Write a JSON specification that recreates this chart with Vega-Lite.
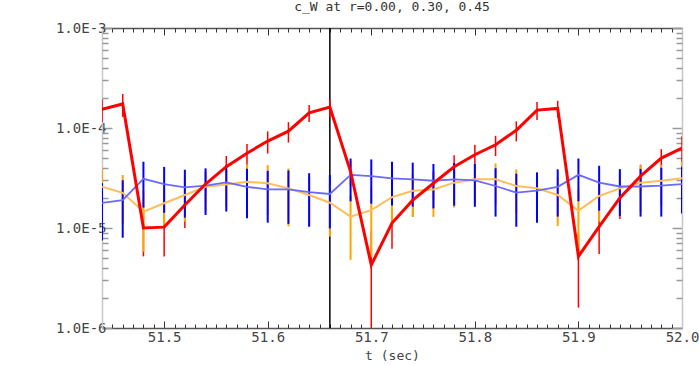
{
  "$schema": "https://vega.github.io/schema/vega-lite/v6.json",
  "width": 580,
  "height": 300,
  "autosize": {"type": "none"},
  "padding": {"left": 102, "top": 28, "right": 17, "bottom": 37},
  "background": "white",
  "title": {"text": "c_W at r=0.00, 0.30, 0.45", "font": "DejaVu Sans Mono", "fontSize": 13, "fontWeight": "normal", "color": "#333", "offset": 7},
  "config": {"view": {"stroke": null}},
  "datasets": {
    "marker": [{"t": 51.66}],
    "red": [
      {"t": 51.44, "v": 1.54e-4, "lo": 1.14e-4, "hi": 1.94e-4},
      {"t": 51.46, "v": 1.74e-4, "lo": 1.29e-4, "hi": 2.19e-4},
      {"t": 51.48, "v": 1.0e-5, "lo": 5.2e-6, "hi": 1.48e-5},
      {"t": 51.50, "v": 1.02e-5, "lo": 5.2e-6, "hi": 1.52e-5},
      {"t": 51.52, "v": 1.7e-5, "lo": 1.0e-5, "hi": 2.4e-5},
      {"t": 51.54, "v": 2.75e-5, "lo": 1.85e-5, "hi": 3.65e-5},
      {"t": 51.56, "v": 4.1e-5, "lo": 2.95e-5, "hi": 5.25e-5},
      {"t": 51.58, "v": 5.6e-5, "lo": 4.3e-5, "hi": 6.9e-5},
      {"t": 51.60, "v": 7.4e-5, "lo": 5.55e-5, "hi": 9.25e-5},
      {"t": 51.62, "v": 9.3e-5, "lo": 7.15e-5, "hi": 1.145e-4},
      {"t": 51.64, "v": 1.42e-4, "lo": 1.145e-4, "hi": 1.695e-4},
      {"t": 51.66, "v": 1.62e-4, "lo": 1.28e-4, "hi": 1.96e-4},
      {"t": 51.68, "v": 3.66e-5, "lo": 2.66e-5, "hi": 4.66e-5},
      {"t": 51.70, "v": 4.27e-6, "lo": 1.0e-6, "hi": 9.3e-6},
      {"t": 51.72, "v": 1.12e-5, "lo": 6.2e-6, "hi": 1.62e-5},
      {"t": 51.74, "v": 1.9e-5, "lo": 1.3e-5, "hi": 2.5e-5},
      {"t": 51.76, "v": 2.8e-5, "lo": 1.9e-5, "hi": 3.7e-5},
      {"t": 51.78, "v": 4.1e-5, "lo": 2.85e-5, "hi": 5.35e-5},
      {"t": 51.80, "v": 5.4e-5, "lo": 4.0e-5, "hi": 6.8e-5},
      {"t": 51.82, "v": 6.8e-5, "lo": 5.25e-5, "hi": 8.35e-5},
      {"t": 51.84, "v": 9.5e-5, "lo": 7.35e-5, "hi": 1.165e-4},
      {"t": 51.86, "v": 1.51e-4, "lo": 1.2e-4, "hi": 1.82e-4},
      {"t": 51.88, "v": 1.57e-4, "lo": 1.27e-4, "hi": 1.87e-4},
      {"t": 51.90, "v": 5.2e-6, "lo": 1.6e-6, "hi": 8.8e-6},
      {"t": 51.92, "v": 1.03e-5, "lo": 5.5e-6, "hi": 1.51e-5},
      {"t": 51.94, "v": 2.0e-5, "lo": 1.23e-5, "hi": 2.77e-5},
      {"t": 51.96, "v": 3.3e-5, "lo": 2.3e-5, "hi": 4.3e-5},
      {"t": 51.98, "v": 5.0e-5, "lo": 3.85e-5, "hi": 6.15e-5},
      {"t": 52.00, "v": 6.3e-5, "lo": 4.35e-5, "hi": 8.25e-5}
    ],
    "orange": [
      {"t": 51.44, "v": 2.59e-5, "lo": 1.32e-5, "hi": 3.86e-5},
      {"t": 51.46, "v": 2.25e-5, "lo": 1.11e-5, "hi": 3.39e-5},
      {"t": 51.48, "v": 1.46e-5, "lo": 5.8e-6, "hi": 2.34e-5},
      {"t": 51.50, "v": 1.77e-5, "lo": 1.02e-5, "hi": 2.52e-5},
      {"t": 51.52, "v": 2.14e-5, "lo": 1.16e-5, "hi": 3.12e-5},
      {"t": 51.54, "v": 2.58e-5, "lo": 1.48e-5, "hi": 3.68e-5},
      {"t": 51.56, "v": 2.73e-5, "lo": 1.63e-5, "hi": 3.83e-5},
      {"t": 51.58, "v": 2.9e-5, "lo": 1.53e-5, "hi": 4.27e-5},
      {"t": 51.60, "v": 2.8e-5, "lo": 1.35e-5, "hi": 4.25e-5},
      {"t": 51.62, "v": 2.49e-5, "lo": 1.04e-5, "hi": 3.94e-5},
      {"t": 51.64, "v": 2.14e-5, "lo": 1.04e-5, "hi": 3.24e-5},
      {"t": 51.66, "v": 1.79e-5, "lo": 8.2e-6, "hi": 2.76e-5},
      {"t": 51.68, "v": 1.3e-5, "lo": 4.8e-6, "hi": 2.12e-5},
      {"t": 51.70, "v": 1.51e-5, "lo": 5.1e-6, "hi": 2.51e-5},
      {"t": 51.72, "v": 2.03e-5, "lo": 1.07e-5, "hi": 2.99e-5},
      {"t": 51.74, "v": 2.36e-5, "lo": 1.29e-5, "hi": 3.43e-5},
      {"t": 51.76, "v": 2.43e-5, "lo": 1.29e-5, "hi": 3.57e-5},
      {"t": 51.78, "v": 2.84e-5, "lo": 1.6e-5, "hi": 4.08e-5},
      {"t": 51.80, "v": 3.07e-5, "lo": 1.77e-5, "hi": 4.37e-5},
      {"t": 51.82, "v": 3.07e-5, "lo": 1.71e-5, "hi": 4.43e-5},
      {"t": 51.84, "v": 2.63e-5, "lo": 1.4e-5, "hi": 3.86e-5},
      {"t": 51.86, "v": 2.5e-5, "lo": 1.4e-5, "hi": 3.6e-5},
      {"t": 51.88, "v": 2.14e-5, "lo": 1.05e-5, "hi": 3.23e-5},
      {"t": 51.90, "v": 1.49e-5, "lo": 5.6e-6, "hi": 2.42e-5},
      {"t": 51.92, "v": 2.09e-5, "lo": 1.16e-5, "hi": 3.02e-5},
      {"t": 51.94, "v": 2.49e-5, "lo": 1.39e-5, "hi": 3.59e-5},
      {"t": 51.96, "v": 2.84e-5, "lo": 1.44e-5, "hi": 4.24e-5},
      {"t": 51.98, "v": 2.97e-5, "lo": 1.67e-5, "hi": 4.27e-5},
      {"t": 52.00, "v": 3.14e-5, "lo": 1.69e-5, "hi": 4.59e-5}
    ],
    "blue": [
      {"t": 51.44, "v": 1.78e-5, "lo": 7.5e-6, "hi": 2.81e-5},
      {"t": 51.46, "v": 1.9e-5, "lo": 8.0e-6, "hi": 3.0e-5},
      {"t": 51.48, "v": 3.1e-5, "lo": 1.6e-5, "hi": 4.6e-5},
      {"t": 51.50, "v": 2.75e-5, "lo": 1.42e-5, "hi": 4.08e-5},
      {"t": 51.52, "v": 2.55e-5, "lo": 1.27e-5, "hi": 3.83e-5},
      {"t": 51.54, "v": 2.65e-5, "lo": 1.35e-5, "hi": 3.95e-5},
      {"t": 51.56, "v": 2.86e-5, "lo": 1.46e-5, "hi": 4.26e-5},
      {"t": 51.58, "v": 2.58e-5, "lo": 1.25e-5, "hi": 3.91e-5},
      {"t": 51.60, "v": 2.43e-5, "lo": 1.13e-5, "hi": 3.73e-5},
      {"t": 51.62, "v": 2.43e-5, "lo": 1.1e-5, "hi": 3.76e-5},
      {"t": 51.64, "v": 2.28e-5, "lo": 1.03e-5, "hi": 3.53e-5},
      {"t": 51.66, "v": 2.19e-5, "lo": 9.9e-6, "hi": 3.39e-5},
      {"t": 51.68, "v": 3.4e-5, "lo": 1.85e-5, "hi": 4.95e-5},
      {"t": 51.70, "v": 3.3e-5, "lo": 1.75e-5, "hi": 4.85e-5},
      {"t": 51.72, "v": 3.14e-5, "lo": 1.68e-5, "hi": 4.6e-5},
      {"t": 51.74, "v": 3.07e-5, "lo": 1.64e-5, "hi": 4.5e-5},
      {"t": 51.76, "v": 2.97e-5, "lo": 1.57e-5, "hi": 4.37e-5},
      {"t": 51.78, "v": 3.07e-5, "lo": 1.67e-5, "hi": 4.47e-5},
      {"t": 51.80, "v": 3.0e-5, "lo": 1.63e-5, "hi": 4.37e-5},
      {"t": 51.82, "v": 2.63e-5, "lo": 1.3e-5, "hi": 3.96e-5},
      {"t": 51.84, "v": 2.26e-5, "lo": 1.03e-5, "hi": 3.49e-5},
      {"t": 51.86, "v": 2.36e-5, "lo": 1.13e-5, "hi": 3.59e-5},
      {"t": 51.88, "v": 2.58e-5, "lo": 1.3e-5, "hi": 3.86e-5},
      {"t": 51.90, "v": 3.4e-5, "lo": 1.85e-5, "hi": 4.95e-5},
      {"t": 51.92, "v": 2.84e-5, "lo": 1.49e-5, "hi": 4.19e-5},
      {"t": 51.94, "v": 2.6e-5, "lo": 1.32e-5, "hi": 3.88e-5},
      {"t": 51.96, "v": 2.6e-5, "lo": 1.3e-5, "hi": 3.9e-5},
      {"t": 51.98, "v": 2.65e-5, "lo": 1.3e-5, "hi": 4.0e-5},
      {"t": 52.00, "v": 2.75e-5, "lo": 1.4e-5, "hi": 4.1e-5}
    ]
  },
  "resolve": {"axis": {"x": "independent", "y": "independent"}},
  "layer": [
    {
      "data": {"name": "marker"},
      "mark": {"type": "rule", "color": "#000000", "strokeWidth": 1.5},
      "encoding": {
        "x": {"field": "t", "type": "quantitative",
          "scale": {"domain": [51.44, 52.0], "nice": false, "zero": false},
          "axis": {"orient": "bottom", "values": [51.5, 51.6, 51.7, 51.8, 51.9, 52.0], "format": ".1f",
            "tickSize": -7, "tickColor": "#333", "tickWidth": 1, "domainColor": "#555", "domainWidth": 1.5,
            "labelFont": "DejaVu Sans Mono", "labelFontSize": 14, "labelColor": "#444", "labelPadding": 9,
            "labelFlush": false, "labelOverlap": false, "grid": false,
            "title": "t (sec)", "titleFont": "DejaVu Sans Mono", "titleFontSize": 13, "titleFontWeight": "normal", "titleColor": "#444", "titlePadding": 5}}
      }
    },
    {
      "data": {"name": "red"},
      "mark": {"type": "rule", "color": "#ff0000", "strokeWidth": 1.5, "clip": true},
      "encoding": {
        "x": {"field": "t", "type": "quantitative",
          "scale": {"domain": [51.44, 52.0], "nice": false, "zero": false},
          "axis": {"orient": "bottom", "values": [51.45, 51.46, 51.47, 51.48, 51.49, 51.51, 51.52, 51.53, 51.54, 51.55, 51.56, 51.57, 51.58, 51.59, 51.61, 51.62, 51.63, 51.64, 51.65, 51.66, 51.67, 51.68, 51.69, 51.71, 51.72, 51.73, 51.74, 51.75, 51.76, 51.77, 51.78, 51.79, 51.81, 51.82, 51.83, 51.84, 51.85, 51.86, 51.87, 51.88, 51.89, 51.91, 51.92, 51.93, 51.94, 51.95, 51.96, 51.97, 51.98, 51.99],
            "tickSize": -4, "tickColor": "#333", "labels": false, "domain": false, "grid": false, "title": null}},
        "y": {"field": "lo", "type": "quantitative",
          "scale": {"type": "log", "domain": [1e-6, 1e-3], "nice": false},
          "axis": {"orient": "left", "values": [1e-6, 1e-5, 1e-4, 1e-3], "labelExpr": "'1.0E' + round(log(datum.value)/LN10)",
            "tickSize": -10, "tickColor": "#999", "tickWidth": 1.5, "domainColor": "#c8c8c8", "domainWidth": 1.5,
            "labelFont": "DejaVu Sans Mono", "labelFontSize": 14, "labelColor": "#444", "labelPadding": 6,
            "labelFlush": false, "labelOverlap": false, "grid": false, "title": null}},
        "y2": {"field": "hi"}
      }
    },
    {
      "data": {"name": "orange"},
      "mark": {"type": "rule", "color": "#ffa500", "strokeWidth": 2, "clip": true},
      "encoding": {
        "x": {"field": "t", "type": "quantitative",
          "scale": {"domain": [51.44, 52.0], "nice": false, "zero": false},
          "axis": {"orient": "top", "values": [51.5, 51.6, 51.7, 51.8, 51.9, 52.0],
            "tickSize": -7, "tickColor": "#333", "domainColor": "#555", "domainWidth": 1.5, "labels": false, "grid": false, "title": null}},
        "y": {"field": "lo", "type": "quantitative",
          "scale": {"type": "log", "domain": [1e-6, 1e-3], "nice": false},
          "axis": {"orient": "left", "values": [2e-6, 3e-6, 4e-6, 5e-6, 6e-6, 7e-6, 8e-6, 9e-6, 2e-5, 3e-5, 4e-5, 5e-5, 6e-5, 7e-5, 8e-5, 9e-5, 2e-4, 3e-4, 4e-4, 5e-4, 6e-4, 7e-4, 8e-4, 9e-4],
            "tickSize": -6, "tickColor": "#999", "tickWidth": 1.5, "labels": false, "domain": false, "grid": false, "title": null}},
        "y2": {"field": "hi"}
      }
    },
    {
      "data": {"name": "blue"},
      "mark": {"type": "rule", "color": "#0000ff", "strokeWidth": 2, "clip": true},
      "encoding": {
        "x": {"field": "t", "type": "quantitative",
          "scale": {"domain": [51.44, 52.0], "nice": false, "zero": false},
          "axis": {"orient": "top", "values": [51.45, 51.46, 51.47, 51.48, 51.49, 51.51, 51.52, 51.53, 51.54, 51.55, 51.56, 51.57, 51.58, 51.59, 51.61, 51.62, 51.63, 51.64, 51.65, 51.66, 51.67, 51.68, 51.69, 51.71, 51.72, 51.73, 51.74, 51.75, 51.76, 51.77, 51.78, 51.79, 51.81, 51.82, 51.83, 51.84, 51.85, 51.86, 51.87, 51.88, 51.89, 51.91, 51.92, 51.93, 51.94, 51.95, 51.96, 51.97, 51.98, 51.99],
            "tickSize": -4, "tickColor": "#333", "labels": false, "domain": false, "grid": false, "title": null}},
        "y": {"field": "lo", "type": "quantitative",
          "scale": {"type": "log", "domain": [1e-6, 1e-3], "nice": false},
          "axis": {"orient": "right", "values": [1e-6, 1e-5, 1e-4, 1e-3],
            "tickSize": -10, "tickColor": "#999", "tickWidth": 1.5, "domainColor": "#c8c8c8", "domainWidth": 1.5, "labels": false, "grid": false, "title": null}},
        "y2": {"field": "hi"}
      }
    },
    {
      "data": {"name": "orange"},
      "mark": {"type": "line", "color": "#ffbe5c", "strokeWidth": 2, "clip": true},
      "encoding": {
        "x": {"field": "t", "type": "quantitative", "scale": {"domain": [51.44, 52.0], "nice": false, "zero": false}, "axis": null},
        "y": {"field": "v", "type": "quantitative",
          "scale": {"type": "log", "domain": [1e-6, 1e-3], "nice": false},
          "axis": {"orient": "right", "values": [2e-6, 3e-6, 4e-6, 5e-6, 6e-6, 7e-6, 8e-6, 9e-6, 2e-5, 3e-5, 4e-5, 5e-5, 6e-5, 7e-5, 8e-5, 9e-5, 2e-4, 3e-4, 4e-4, 5e-4, 6e-4, 7e-4, 8e-4, 9e-4],
            "tickSize": -6, "tickColor": "#999", "tickWidth": 1.5, "labels": false, "domain": false, "grid": false, "title": null}}
      }
    },
    {
      "data": {"name": "blue"},
      "mark": {"type": "line", "color": "#6a6aff", "strokeWidth": 1.8, "clip": true},
      "encoding": {
        "x": {"field": "t", "type": "quantitative", "scale": {"domain": [51.44, 52.0], "nice": false, "zero": false}, "axis": null},
        "y": {"field": "v", "type": "quantitative", "scale": {"type": "log", "domain": [1e-6, 1e-3], "nice": false}, "axis": null}
      }
    },
    {
      "data": {"name": "red"},
      "mark": {"type": "line", "color": "#ff0000", "strokeWidth": 3, "clip": true},
      "encoding": {
        "x": {"field": "t", "type": "quantitative", "scale": {"domain": [51.44, 52.0], "nice": false, "zero": false}, "axis": null},
        "y": {"field": "v", "type": "quantitative", "scale": {"type": "log", "domain": [1e-6, 1e-3], "nice": false}, "axis": null}
      }
    }
  ]
}
